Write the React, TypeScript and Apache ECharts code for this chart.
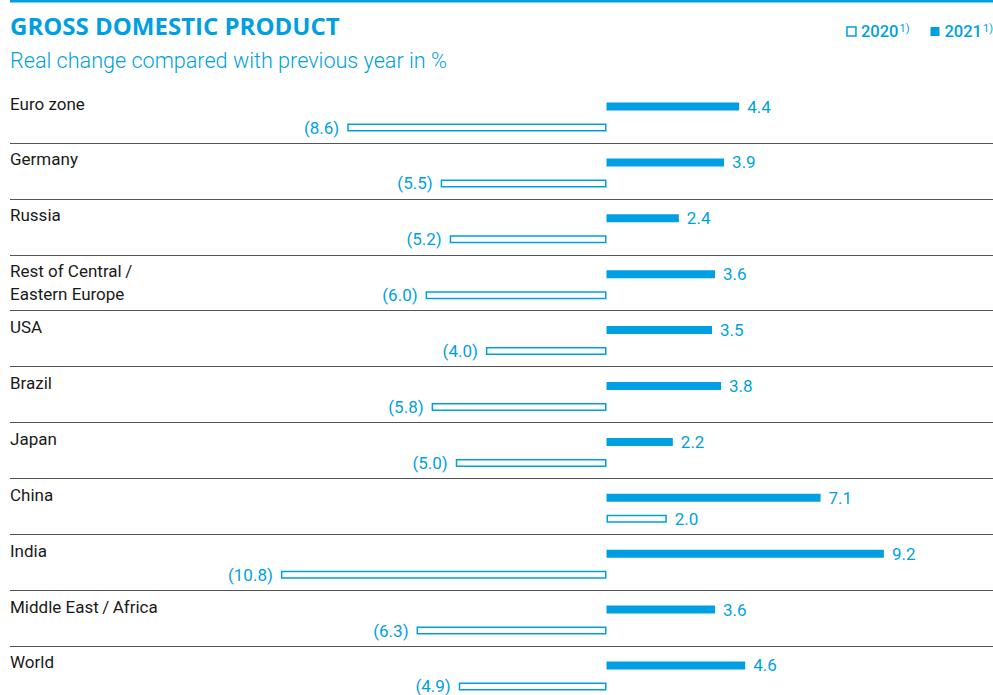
import React, { useEffect, useRef } from "react";
import * as echarts from "echarts";

const BLUE = "#009fe3";

const categories = [
  "Euro zone",
  "Germany",
  "Russia",
  "Rest of Central\u2009/\nEastern Europe",
  "USA",
  "Brazil",
  "Japan",
  "China",
  "India",
  "Middle East\u2009/\u2009Africa",
  "World",
];
const values2021 = [4.4, 3.9, 2.4, 3.6, 3.5, 3.8, 2.2, 7.1, 9.2, 3.6, 4.6];
const values2020 = [-8.6, -5.5, -5.2, -6.0, -4.0, -5.8, -5.0, 2.0, -10.8, -6.3, -4.9];
const seriesNames = ["2020", "2021"];
const titleText = "GROSS DOMESTIC PRODUCT";
const subtitleText = "Real change compared with previous year in %";
const footnoteMark = "1)";

const ROW_TOP = 87.1;
const ROW_H = 55.89;
const GRID_H = ROW_H * categories.length;
const CANVAS_H = 710;

const fmt = (p: any) => {
  const v = typeof p.value === "number" ? p.value : p.data.value;
  return v < 0 ? `(${Math.abs(v).toFixed(1)})` : v.toFixed(1);
};

export default function App() {
  const ref = useRef<HTMLDivElement>(null);
  useEffect(() => {
    if (!ref.current) return;
    const chart = echarts.init(ref.current, undefined, { renderer: "svg" });
    const labelStyle = {
      show: true,
      distance: 8,
      color: BLUE,
      fontSize: 17,
      lineHeight: 16,
      fontFamily: "Roboto",
      formatter: fmt,
    };
    chart.setOption({
      animation: false,
      title: [
        {
          text: titleText,
          left: 10,
          top: 12,
          padding: 0,
          textStyle: {
            fontFamily: "Open Sans",
            fontWeight: "bold",
            fontSize: 24,
            color: BLUE,
            lineHeight: 26,
          },
        },
        {
          text: subtitleText,
          left: 10,
          top: 48,
          padding: 0,
          textStyle: {
            fontFamily: "Roboto",
            fontWeight: 300,
            fontSize: 21.6,
            color: BLUE,
            lineHeight: 24,
          },
        },
      ],
      legend: {
        right: -5,
        top: 18,
        itemWidth: 9,
        itemHeight: 9,
        itemGap: 21,
        selectedMode: false,
        data: [
          {
            name: seriesNames[0],
            icon: "rect",
            itemStyle: { color: "#fff", borderColor: BLUE, borderWidth: 1.5 },
          },
          { name: seriesNames[1], icon: "rect", itemStyle: { color: BLUE } },
        ],
        formatter: (n: string) => `{y|${n}}{s|${footnoteMark}}`,
        textStyle: {
          color: BLUE,
          rich: {
            y: { fontSize: 16.5, fontFamily: "Roboto", fontWeight: 500, color: BLUE, lineHeight: 17 },
            s: { fontSize: 11, fontFamily: "Roboto", color: BLUE, verticalAlign: "top", lineHeight: 11, padding: [0, 0, 0, 1] },
          },
        },
      },
      graphic: [
        {
          type: "line",
          shape: { x1: 10, y1: 1.2, x2: 993, y2: 1.2 },
          style: { stroke: BLUE, lineWidth: 2.5 },
        },
      ],
      grid: [
        { left: 10, right: 0, top: ROW_TOP, height: GRID_H, containLabel: false },
        { left: 274.85, right: 85, top: ROW_TOP + 2, height: GRID_H, containLabel: false },
      ],
      xAxis: [
        { type: "value", gridIndex: 0, min: 0, max: 1, show: false },
        { type: "value", gridIndex: 1, min: -11, max: 10, show: false },
      ],
      yAxis: [
        {
          type: "category",
          gridIndex: 0,
          inverse: true,
          data: categories,
          axisLine: { show: false },
          axisTick: { show: false },
          axisLabel: {
            show: true,
            interval: 0,
            align: "left",
            margin: 0,
            color: "#1a1a1a",
            fontSize: 17,
            fontFamily: "Roboto",
            lineHeight: 23,
            verticalAlign: "middle",
            formatter: (v: string) => (v.includes("\n") ? v : v + "\n "),
          },
          splitLine: {
            show: true,
            interval: (i: number) => i > 0,
            lineStyle: { color: "#555", width: 1 },
          },
        },
        {
          type: "category",
          gridIndex: 1,
          inverse: true,
          data: categories,
          show: false,
        },
      ],
      series: [
        {
          name: seriesNames[1],
          type: "bar",
          xAxisIndex: 1,
          yAxisIndex: 1,
          barWidth: 8,
          barGap: "162.5%",
          itemStyle: { color: BLUE },
          label: { ...labelStyle, position: "right" },
          data: values2021.map((v) => ({ value: v, label: { position: v < 0 ? "left" : "right" } })),
        },
        {
          name: seriesNames[0],
          type: "bar",
          xAxisIndex: 1,
          yAxisIndex: 1,
          barWidth: 8,
          barGap: "162.5%",
          itemStyle: { color: "#fff", borderColor: BLUE, borderWidth: 1.5 },
          label: { ...labelStyle, position: "right" },
          data: values2020.map((v) => ({ value: v, label: { position: v < 0 ? "left" : "right" } })),
        },
      ],
    });
    return () => chart.dispose();
  }, []);
  return (
    <div
      style={{ position: "absolute", left: 0, top: 0, width: 993, height: 695, overflow: "hidden" }}
    >
      <div ref={ref} style={{ width: 993, height: CANVAS_H }} />
    </div>
  );
}
